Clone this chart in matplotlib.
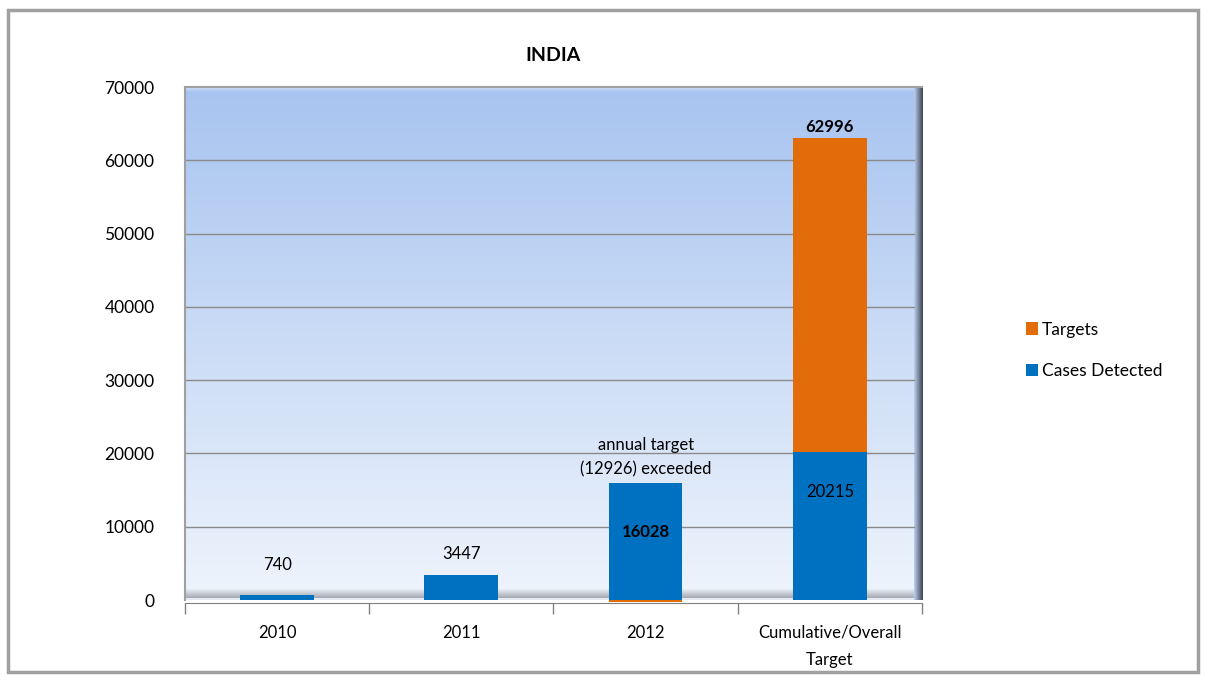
import matplotlib
matplotlib.use("Agg")
import matplotlib.pyplot as plt
import numpy as np
from matplotlib.patches import Rectangle

categories = ["2010", "2011", "2012", "Cumulative/Overall\nTarget"]
cases_detected = [740, 3447, 16028, 20215]
targets = [0, 0, -300, 42781]
target_total = 62996
annual_target_2012 = 12926

blue = "#0070c0"
orange = "#e36c0a"

plt.rcParams['font.family'] = ['Lato', 'DejaVu Sans']

fig = plt.figure(figsize=(12.05, 6.82), dpi=100)

# outer chart border
fig.patches.append(Rectangle((0.007, 0.015), 0.987, 0.97, transform=fig.transFigure,
                             fill=False, edgecolor="#a0a0a0", linewidth=2.5))

ax = fig.add_axes([0.1535, 0.1202, 0.6116, 0.7522])
x = np.arange(len(categories))
x0, x1 = -0.5, len(categories) - 0.5
ax.set_xlim(x0, x1)
ax.set_ylim(0, 70000)


def band(c_a, c_b, extent, vertical=True):
    t = np.linspace(0, 1, 64)
    ca = np.array(c_a) / 255
    cb = np.array(c_b) / 255
    cols = ca * (1 - t[:, None]) + cb * t[:, None]
    img = cols.reshape(64, 1, 3) if vertical else cols.reshape(1, 64, 3)
    ax.imshow(img, extent=extent, origin="lower", aspect="auto", zorder=0.5, interpolation="bilinear")


# gradient background (bottom -> top)
band((238, 244, 252), (168, 196, 240), [x0, x1, 0, 70000])
# bevel: bottom, right, top
band((150, 154, 162), (232, 238, 246), [x0, x1 - 0.04, 0, 1400])
band((190, 210, 240), (60, 68, 84), [x1 - 0.045, x1, 0, 70000], vertical=False)
band((168, 196, 240), (215, 228, 250), [x0, x1 - 0.045, 69300, 70000])
ax.imshow([[[0.9, 0.92, 0.95]]], extent=[x0, x1 - 0.045, 0, 200], aspect="auto", zorder=0.6)

for y in range(10000, 70000, 10000):
    ax.plot([x0, x1 - 0.045], [y, y], color="#8a8a8a", linewidth=1, zorder=1)

width = 0.4
ax.bar(x, cases_detected, width, color=blue, label="Cases Detected", zorder=2)
ax.bar(x, targets, width, bottom=[c if t > 0 else 0 for c, t in zip(cases_detected, targets)],
       color=orange, label="Targets", zorder=2, clip_on=False)

# data labels
ax.text(x[0], cases_detected[0] + 4000, str(cases_detected[0]), ha="center", va="center", fontsize=12)
ax.text(x[1], cases_detected[1] + 2800, str(cases_detected[1]), ha="center", va="center", fontsize=12)
ax.text(x[2], 9300, str(cases_detected[2]), ha="center", va="center", fontsize=12, fontweight="bold")
ax.text(x[3], 14700, str(cases_detected[3]), ha="center", va="center", fontsize=12)
ax.text(x[3], target_total + 1500, str(target_total), ha="center", va="center", fontsize=12, fontweight="bold")
ax.text(x[2], 19500, "annual target\n(%d) exceeded" % annual_target_2012, ha="center", va="center",
        fontsize=12, linespacing=1.6)

ax.set_yticks(range(0, 70001, 10000))
ax.tick_params(axis="y", length=0, labelsize=12.5, pad=22)

# category labels as text so the line spacing holds
ax.set_xticks(x)
ax.set_xticklabels([""] * len(categories))
ax.tick_params(axis="x", which="major", length=0)
for xi, cat in zip(x, categories):
    ax.text(xi, -0.048, cat, transform=ax.get_xaxis_transform(), ha="center", va="top",
            fontsize=12, linespacing=1.85)
ax.set_xticks(np.arange(x0, x1 + 0.01, 1), minor=True)
ax.tick_params(axis="x", which="minor", length=8, color="#808080", width=1)

for s in ["top", "right"]:
    ax.spines[s].set_visible(False)
ax.spines["left"].set_color("#a0a0a0")
ax.spines["left"].set_linewidth(1.5)
ax.spines["bottom"].set_color("#808080")
ax.spines["bottom"].set_position(("outward", 2))
ax.plot([x0, x1], [70000, 70000], color="#a0a0a0", lw=1.5, zorder=3, clip_on=False)

ax.set_title("INDIA", fontsize=14, fontweight="bold", pad=19)

h, l = ax.get_legend_handles_labels()
ax.legend(h[::-1], l[::-1], loc="center left", bbox_to_anchor=(1.12, 0.487), frameon=False,
          fontsize=12.5, handlelength=0.7, handleheight=0.7, handletextpad=0.2, labelspacing=1.45)

fig.savefig("out.png", dpi=100)
